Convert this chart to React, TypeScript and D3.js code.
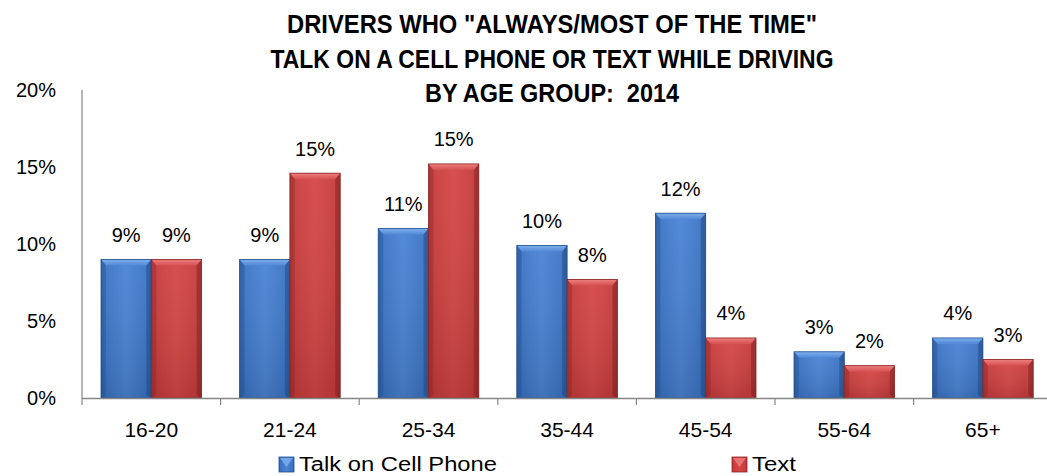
import React from "react";
import * as d3 from "d3";

const categories = ["16-20", "21-24", "25-34", "35-44", "45-54", "55-64", "65+"];
const talkValues = [0.09, 0.09, 0.11, 0.099, 0.12, 0.03, 0.039];
const textValues = [0.09, 0.146, 0.152, 0.077, 0.039, 0.021, 0.025];
const seriesNames = ["Talk on Cell Phone", "Text"];
const yTicks = [0, 0.05, 0.1, 0.15, 0.2];
const titleLines = [
  'DRIVERS WHO "ALWAYS/MOST OF THE TIME"',
  "TALK ON A CELL PHONE OR TEXT WHILE DRIVING",
  "BY AGE GROUP:  2014",
];
const titleWidths = [530, 563, 254];

const W = 1047;
const H = 476;
const FONT = "'Liberation Sans', Arial, sans-serif";

const palettes = [
  { id: "blue", edge: "#234f8f", dark: "#2f62ab", main: "#3b74c5", light: "#4a84d4", top: "#7eb0ee", topDark: "#5189d6", rightEdge: "#1f4680" },
  { id: "red", edge: "#8e2424", dark: "#b03434", main: "#c83c3c", light: "#d54646", top: "#ee8080", topDark: "#d65050", rightEdge: "#7c1e1e" },
];

export default function App() {
  const x0 = d3.scaleBand<string>().domain(categories).range([82, 82 + 7 * 138.6]).paddingInner(0).paddingOuter(0);
  const x1 = d3.scaleBand<number>().domain([0, 1]).range([0, 100.6]);
  const inset = (x0.bandwidth() - 100.6) / 2;
  const y = d3.scaleLinear().domain([0, 0.2]).range([398, 90]);
  const series = [talkValues, textValues];
  const fmt = (v: number) => Math.round(v * 100 + 1e-9) + "%";

  const bars: React.ReactNode[] = [];
  const labels: React.ReactNode[] = [];
  categories.forEach((c, i) => {
    series.forEach((vals, s) => {
      const v = vals[i];
      const bx = (x0(c) as number) + inset + (x1(s) as number);
      const bw = x1.bandwidth();
      const by = y(v);
      const bh = y(0) - by;
      const p = palettes[s];
      const bev = Math.min(6, bh / 2);
      bars.push(
        <g key={`b${i}-${s}`}>
          <rect x={bx} y={by} width={bw} height={bh} fill={`url(#g-${p.id})`} />
          <rect x={bx} y={by} width={bw} height={bh} fill={`url(#v-${p.id})`} />
          <polygon
            points={`${bx},${by} ${bx + bw},${by} ${bx + bw - 5},${by + bev} ${bx + 5},${by + bev}`}
            fill={`url(#t-${p.id})`}
          />
          <polygon
            points={`${bx},${by} ${bx + 5},${by + bev} ${bx + 5},${by + bh - 3} ${bx},${by + bh}`}
            fill={p.edge}
            opacity={0.35}
          />
          <polygon
            points={`${bx + bw},${by} ${bx + bw - 5},${by + bev} ${bx + bw - 5},${by + bh - 3} ${bx + bw},${by + bh}`}
            fill={p.rightEdge}
            opacity={0.45}
          />
          <rect x={bx} y={by} width={bw} height={bh} fill="none" stroke={p.edge} strokeWidth={0.8} />
        </g>
      );
      labels.push(
        <text key={`l${i}-${s}`} x={bx + bw / 2} y={by - 17.5} textAnchor="middle" fontSize={20} fontFamily={FONT} fill="#000">
          {fmt(v)}
        </text>
      );
    });
  });

  return (
    <svg width={W} height={H} style={{ position: "absolute", left: 0, top: 0, background: "#fff" }}>
      <defs>
        {palettes.map((p) => (
          <React.Fragment key={p.id}>
            <linearGradient id={`g-${p.id}`} x1="0" x2="1" y1="0" y2="0">
              <stop offset="0" stopColor={p.dark} />
              <stop offset="0.1" stopColor={p.main} />
              <stop offset="0.5" stopColor={p.light} />
              <stop offset="0.9" stopColor={p.main} />
              <stop offset="1" stopColor={p.dark} />
            </linearGradient>
            <linearGradient id={`v-${p.id}`} x1="0" x2="0" y1="0" y2="1">
              <stop offset="0" stopColor="#fff" stopOpacity={0.05} />
              <stop offset="1" stopColor="#000" stopOpacity={0.12} />
            </linearGradient>
            <linearGradient id={`t-${p.id}`} x1="0" x2="0" y1="0" y2="1">
              <stop offset="0" stopColor={p.top} />
              <stop offset="1" stopColor={p.topDark} />
            </linearGradient>
          </React.Fragment>
        ))}
      </defs>

      {titleLines.map((t, i) => (
        <text
          key={t}
          x={552}
          y={33 + i * 34.5}
          textAnchor="middle"
          fontSize={25}
          fontWeight="bold"
          fontFamily={FONT}
          textLength={titleWidths[i]}
          lengthAdjust="spacingAndGlyphs"
          fill="#000"
          style={{ whiteSpace: "pre" }}
        >
          {t}
        </text>
      ))}

      {yTicks.map((t) => (
        <text key={t} x={56} y={y(t) + 7} textAnchor="end" fontSize={20} fontFamily={FONT} fill="#000">
          {Math.round(t * 100) + "%"}
        </text>
      ))}

      <line x1={82} x2={82} y1={y(0.2)} y2={y(0)} stroke="#868686" strokeWidth={1.2} />

      {bars}

      <line x1={82} x2={82 + 7 * 138.6} y1={y(0) + 0.5} y2={y(0) + 0.5} stroke="#868686" strokeWidth={1.5} />
      {categories.map((c, i) => (
        <line key={`tk${i}`} x1={x0(c) as number} x2={x0(c) as number} y1={y(0)} y2={y(0) + 7} stroke="#868686" strokeWidth={1.2} />
      ))}
      {categories.map((c) => (
        <text key={`c${c}`} x={(x0(c) as number) + x0.bandwidth() / 2} y={437} textAnchor="middle" fontSize={21} fontFamily={FONT} fill="#000">
          {c}
        </text>
      ))}

      {labels}

      {seriesNames.map((n, s) => {
        const mx = s === 0 ? 279 : 732;
        const p = palettes[s];
        return (
          <g key={n}>
            <rect x={mx} y={457} width={15} height={15} fill={`url(#g-${p.id})`} stroke={p.edge} strokeWidth={0.8} />
            <polygon points={`${mx + 1},${458} ${mx + 14},${458} ${mx + 7.5},${467}`} fill={p.top} opacity={0.8} />
            <text
              x={mx + 20}
              y={471}
              fontSize={20}
              fontFamily={FONT}
              fill="#000"
              textLength={s === 0 ? 198 : 44}
              lengthAdjust="spacingAndGlyphs"
            >
              {n}
            </text>
          </g>
        );
      })}
    </svg>
  );
}
